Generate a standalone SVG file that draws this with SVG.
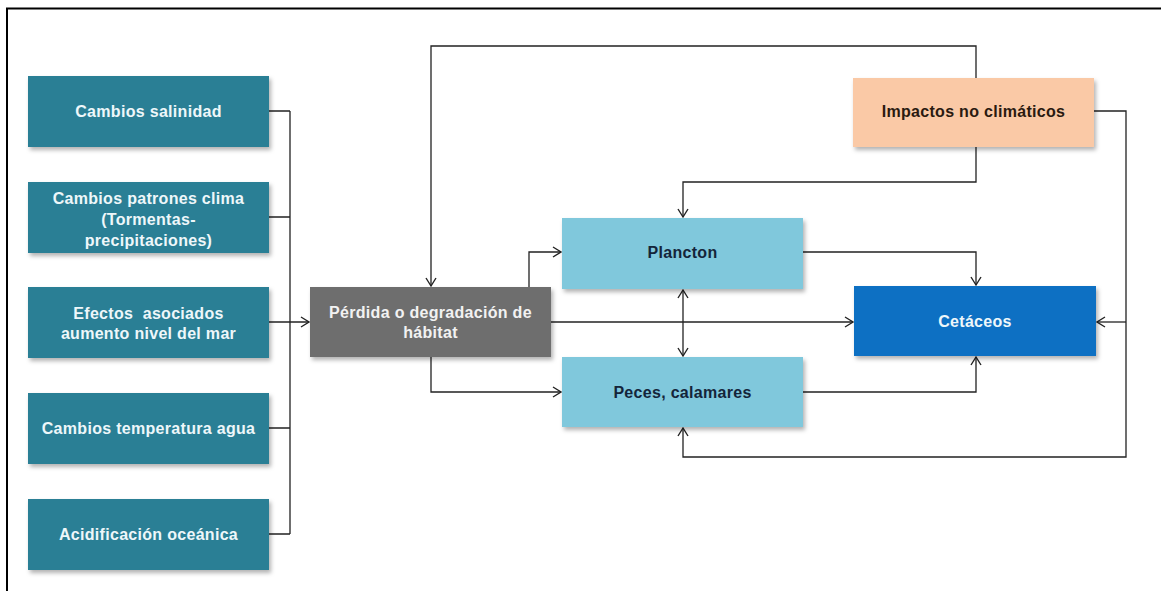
<svg xmlns="http://www.w3.org/2000/svg" width="1161" height="591" viewBox="0 0 1161 591">
<defs>
<style>
.box{filter:url(#sh)}
.t{font-family:"Liberation Sans",Arial,sans-serif;font-weight:bold;font-size:16px;text-anchor:middle;letter-spacing:0.3px}
.w{fill:#eef7fa}
.g{fill:#f2f2f2}
.d{fill:#14253a}
.o{fill:#2a1a10}
.c{fill:none;stroke:#222;stroke-width:1.3}
</style>
<filter id="sh" x="-10%" y="-20%" width="125%" height="150%">
<feDropShadow dx="2" dy="3" stdDeviation="2" flood-color="#000" flood-opacity="0.3"/>
</filter>
<marker id="ar" markerUnits="userSpaceOnUse" markerWidth="12" markerHeight="12" refX="10" refY="6" orient="auto-start-reverse">
<path d="M2,1 L10,6 L2,11" fill="none" stroke="#222" stroke-width="1.4"/>
</marker>
</defs>
<rect width="1161" height="591" fill="#fff"/>
<g id="frame">
<line x1="6" y1="8.5" x2="1161" y2="8.5" stroke="#000" stroke-width="2"/>
<line x1="7" y1="8" x2="7" y2="591" stroke="#000" stroke-width="2"/>
</g>
<g id="connectors">
<path class="c" d="M269,111 H290 M269,217 H290 M269,428 H290 M269,534 H290 M290,111 V534"/>
<path class="c" d="M269,322 H309" marker-end="url(#ar)"/>
<path class="c" d="M976,78 V46 H431 V286" marker-end="url(#ar)"/>
<path class="c" d="M976,147 V182 H683 V217" marker-end="url(#ar)"/>
<path class="c" d="M1094,111 H1126 V457 H683 V428" marker-end="url(#ar)"/>
<path class="c" d="M1126,322 H1097" marker-end="url(#ar)"/>
<path class="c" d="M529,287 V252 H561" marker-end="url(#ar)"/>
<path class="c" d="M551,322 H853" marker-end="url(#ar)"/>
<path class="c" d="M431,357 V392 H561" marker-end="url(#ar)"/>
<path class="c" d="M803,252 H976 V285" marker-end="url(#ar)"/>
<path class="c" d="M803,392 H976 V357" marker-end="url(#ar)"/>
<path class="c" d="M683,290 V356" marker-start="url(#ar)" marker-end="url(#ar)"/>
</g>
<g id="n1"><rect class="box" x="28" y="76" width="241" height="71" fill="#2b7f95"/><text class="t w" x="148.5" y="117">Cambios salinidad</text></g>
<g id="n2"><rect class="box" x="28" y="182" width="241" height="71" fill="#2b7f95"/><text class="t w" x="148.5" y="204">Cambios patrones clima</text><text class="t w" x="148.5" y="225">(Tormentas-</text><text class="t w" x="148.5" y="246">precipitaciones)</text></g>
<g id="n3"><rect class="box" x="28" y="287" width="241" height="71" fill="#2b7f95"/><text class="t w" x="148.5" y="319" xml:space="preserve">Efectos  asociados</text><text class="t w" x="148.5" y="339">aumento nivel del mar</text></g>
<g id="n4"><rect class="box" x="28" y="393" width="241" height="71" fill="#2b7f95"/><text class="t w" x="148.5" y="434">Cambios temperatura agua</text></g>
<g id="n5"><rect class="box" x="28" y="499" width="241" height="71" fill="#2b7f95"/><text class="t w" x="148.5" y="540">Acidificación oceánica</text></g>
<g id="n6"><rect class="box" x="310" y="287" width="241" height="70" fill="#6e6e6e"/><text class="t g" x="430.5" y="318">Pérdida o degradación de</text><text class="t g" x="430.5" y="338">hábitat</text></g>
<g id="n7"><rect class="box" x="562" y="218" width="241" height="71" fill="#80c8dc"/><text class="t d" x="682.5" y="258">Plancton</text></g>
<g id="n8"><rect class="box" x="562" y="357" width="241" height="70" fill="#80c8dc"/><text class="t d" x="682.5" y="398">Peces, calamares</text></g>
<g id="n9"><rect class="box" x="854" y="286" width="242" height="70" fill="#0b6fc3"/><text class="t w" x="975" y="327">Cetáceos</text></g>
<g id="n10"><rect class="box" x="853" y="78" width="241" height="69" fill="#fac9a6"/><text class="t o" x="973.5" y="117">Impactos no climáticos</text></g>
</svg>
